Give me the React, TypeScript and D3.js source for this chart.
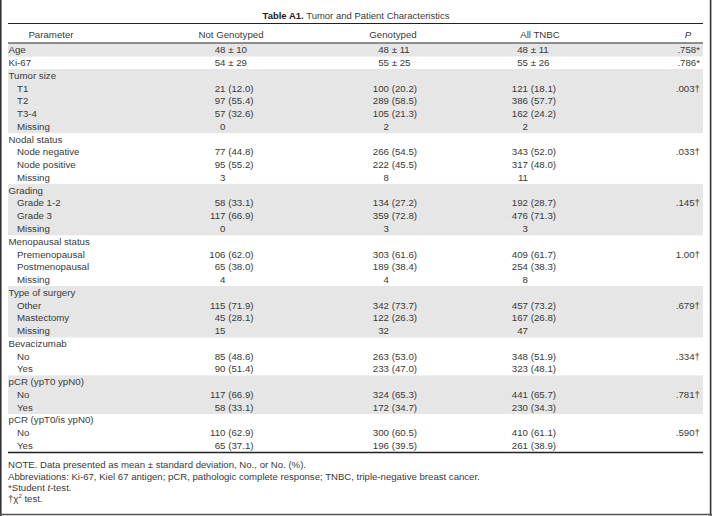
import React from "react";
import * as d3 from "d3";

const title = "Tumor and Patient Characteristics";
const tableLabel = "Table A1.";
const headers = ["Parameter", "Not Genotyped", "Genotyped", "All TNBC", "P"];

const parameters = [
  "Age", "Ki-67",
  "Tumor size", "T1", "T2", "T3-4", "Missing",
  "Nodal status", "Node negative", "Node positive", "Missing",
  "Grading", "Grade 1-2", "Grade 3", "Missing",
  "Menopausal status", "Premenopausal", "Postmenopausal", "Missing",
  "Type of surgery", "Other", "Mastectomy", "Missing",
  "Bevacizumab", "No", "Yes",
  "pCR (ypT0 ypN0)", "No", "Yes",
  "pCR (ypT0/is ypN0)", "No", "Yes",
];
const indentLevel = [0, 0, 0, 1, 1, 1, 1, 0, 1, 1, 1, 0, 1, 1, 1, 0, 1, 1, 1, 0, 1, 1, 1, 0, 1, 1, 0, 1, 1, 0, 1, 1];
const groupIndex = [0, 1, 2, 2, 2, 2, 2, 3, 3, 3, 3, 4, 4, 4, 4, 5, 5, 5, 5, 6, 6, 6, 6, 7, 7, 7, 8, 8, 8, 9, 9, 9];

const notGenotyped = [
  "48 ± 10", "54 ± 29",
  "", "21 (12.0)", "97 (55.4)", "57 (32.6)", "0",
  "", "77 (44.8)", "95 (55.2)", "3",
  "", "58 (33.1)", "117 (66.9)", "0",
  "", "106 (62.0)", "65 (38.0)", "4",
  "", "115 (71.9)", "45 (28.1)", "15",
  "", "85 (48.6)", "90 (51.4)",
  "", "117 (66.9)", "58 (33.1)",
  "", "110 (62.9)", "65 (37.1)",
];
const genotyped = [
  "48 ± 11", "55 ± 25",
  "", "100 (20.2)", "289 (58.5)", "105 (21.3)", "2",
  "", "266 (54.5)", "222 (45.5)", "8",
  "", "134 (27.2)", "359 (72.8)", "3",
  "", "303 (61.6)", "189 (38.4)", "4",
  "", "342 (73.7)", "122 (26.3)", "32",
  "", "263 (53.0)", "233 (47.0)",
  "", "324 (65.3)", "172 (34.7)",
  "", "300 (60.5)", "196 (39.5)",
];
const allTNBC = [
  "48 ± 11", "55 ± 26",
  "", "121 (18.1)", "386 (57.7)", "162 (24.2)", "2",
  "", "343 (52.0)", "317 (48.0)", "11",
  "", "192 (28.7)", "476 (71.3)", "3",
  "", "409 (61.7)", "254 (38.3)", "8",
  "", "457 (73.2)", "167 (26.8)", "47",
  "", "348 (51.9)", "323 (48.1)",
  "", "441 (65.7)", "230 (34.3)",
  "", "410 (61.1)", "261 (38.9)",
];
const pValues = [
  ".758*", ".786*",
  "", ".003†", "", "", "",
  "", ".033†", "", "",
  "", ".145†", "", "",
  "", "1.00†", "", "",
  "", ".679†", "", "",
  "", ".334†", "",
  "", ".781†", "",
  "", ".590†", "",
];

const noteLine = "NOTE. Data presented as mean ± standard deviation, No., or No. (%).";
const abbrevLine = "Abbreviations: Ki-67, Kiel 67 antigen; pCR, pathologic complete response; TNBC, triple-negative breast cancer.";

const W = 712;
const H = 516;
const FONT = "'Liberation Sans', Arial, sans-serif";
const TEXT = "#3a3a3a";

export default function App() {
  const y = d3
    .scaleBand<number>()
    .domain(d3.range(parameters.length))
    .range([43.5, 452])
    .padding(0);
  const bw = y.bandwidth();
  const left = 8;
  const right = 703;
  const countEnds = [225.5, 389, 528];
  const headerX = [51, 231, 393, 540, 688];
  const pRight = 700;
  const cols = [notGenotyped, genotyped, allTNBC];
  const fs = 9.7;
  const ffs = 9.6;

  const split = (s: string) => {
    const i = s.indexOf(" ");
    if (i < 0) return [s, ""];
    return [s.slice(0, i), s.slice(i + 1)];
  };

  return (
    <svg
      width={W}
      height={H}
      viewBox={`0 0 ${W} ${H}`}
      style={{ position: "fixed", top: 0, left: 0, background: "#fff" }}
      fontFamily={FONT}
    >
      <rect x={0} y={0} width={W} height={H} fill="#fff" />
      {parameters.map((_, i) =>
        groupIndex[i] % 2 === 0 ? (
          <rect key={"b" + i} x={left} y={y(i)!} width={right - left} height={bw + 0.3} fill="#e6e6e6" />
        ) : null
      )}
      <text x={356} y={18.5} textAnchor="middle" fontSize={9.5} fill="#222">
        <tspan fontWeight="bold">{tableLabel}</tspan>
        <tspan fill={TEXT}>{" " + title}</tspan>
      </text>
      <line x1={left} x2={right} y1={23.5} y2={23.5} stroke="#222" strokeWidth={1} />
      {headers.map((h, j) => (
        <text
          key={"h" + j}
          x={headerX[j]}
          y={37.5}
          textAnchor="middle"
          fontSize={fs}
          fill={TEXT}
          fontStyle={j === 4 ? "italic" : "normal"}
        >
          {h}
        </text>
      ))}
      <line x1={left} x2={right} y1={43} y2={43} stroke="#222" strokeWidth={1} />
      {parameters.map((p, i) => {
        const by = y(i)! + bw / 2 + 3.4;
        return (
          <g key={"r" + i}>
            <text x={indentLevel[i] ? 17 : 8.5} y={by} fontSize={fs} fill={TEXT}>
              {p}
            </text>
            {cols.map((col, j) => {
              const v = col[i];
              if (!v) return null;
              const [a, b] = split(v);
              return (
                <g key={"c" + j}>
                  <text x={countEnds[j]} y={by} textAnchor="end" fontSize={fs} fill={TEXT}>
                    {a}
                  </text>
                  {b ? (
                    <text x={countEnds[j] + 2.7} y={by} fontSize={fs} fill={TEXT}>
                      {b}
                    </text>
                  ) : null}
                </g>
              );
            })}
            {pValues[i] ? (
              <text x={pRight} y={by} textAnchor="end" fontSize={fs} fill={TEXT}>
                {pValues[i]}
              </text>
            ) : null}
          </g>
        );
      })}
      <line x1={left} x2={right} y1={452.5} y2={452.5} stroke="#222" strokeWidth={1.5} />
      <text x={8} y={468} fontSize={ffs} fill={TEXT}>
        {noteLine}
      </text>
      <text x={8} y={479.5} fontSize={ffs} fill={TEXT}>
        {abbrevLine}
      </text>
      <text x={8} y={491} fontSize={ffs} fill={TEXT}>
        <tspan>*Student </tspan>
        <tspan fontStyle="italic">t</tspan>
        <tspan>-test.</tspan>
      </text>
      <text x={8} y={502} fontSize={ffs} fill={TEXT}>
        <tspan>†χ</tspan>
        <tspan fontSize={6} dy={-4}>2</tspan>
        <tspan dy={4}> test.</tspan>
      </text>
      <line x1={0.8} x2={0.8} y1={0} y2={H} stroke="#333" strokeWidth={1.6} />
      <line x1={710.6} x2={710.6} y1={0} y2={H} stroke="#333" strokeWidth={1.6} />
      <line x1={0} x2={W} y1={514.5} y2={514.5} stroke="#555" strokeWidth={1.6} />
    </svg>
  );
}
